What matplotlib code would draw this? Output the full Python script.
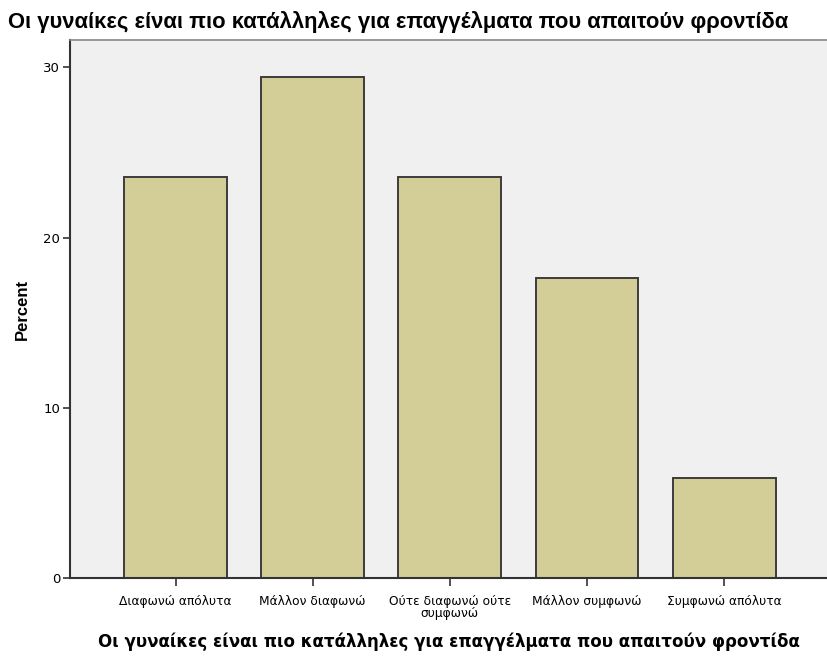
import matplotlib
matplotlib.use('Agg')
import matplotlib.pyplot as plt

title = 'Οι γυναίκες είναι πιο κατάλληλες για επαγγέλματα που απαιτούν φροντίδα'
categories = ['Διαφωνώ απόλυτα', 'Μάλλον διαφωνώ', 'Ούτε διαφωνώ ούτε\nσυμφωνώ',
              'Μάλλον συμφωνώ', 'Συμφωνώ απόλυτα']
percent = [23.53, 29.41, 23.53, 17.65, 5.88]
yticks = [0, 10, 20, 30]

bar_color = '#D3CE97'
edge_color = '#3C3C3C'

fig = plt.figure(figsize=(8.27, 6.57), dpi=100)
ax = fig.add_axes([0.0846, 0.1202, 1 - 0.0846, 0.9391 - 0.1202])
ax.set_facecolor('#F0F0F0')

x = list(range(len(categories)))
ax.bar(x, percent, width=0.75, color=bar_color, edgecolor=edge_color, linewidth=1.4, zorder=2)

ax.set_xlim(-0.77, 4.75)
ax.set_ylim(0, 31.6)
ax.set_yticks(yticks)
ax.set_yticklabels([str(v) for v in yticks], fontsize=9.5, family='DejaVu Sans')
ax.set_xticks(x)
ax.set_xticklabels(categories, fontsize=8.8, family='DejaVu Sans', linespacing=0.95)
ax.tick_params(axis='x', length=6, width=1.2, color='#333333', pad=6)
ax.tick_params(axis='y', length=5, width=1.2, color='#333333', pad=2)

ax.spines['right'].set_visible(False)
ax.spines['top'].set_color('#888888')
ax.spines['top'].set_linewidth(1.2)
ax.spines['left'].set_color('#333333')
ax.spines['bottom'].set_color('#333333')
ax.spines['left'].set_linewidth(1.5)
ax.spines['bottom'].set_linewidth(1.5)

ax.set_ylabel('Percent', fontsize=12, fontweight='bold', family='Liberation Sans', labelpad=10)
ax.set_xlabel(title, fontsize=12, fontweight='bold', family='DejaVu Sans', labelpad=9)

fig.text(0.01, 0.966, title, fontsize=15.8, fontweight='bold', family='Liberation Sans',
         ha='left', va='center')

fig.savefig('out.png', dpi=100)
